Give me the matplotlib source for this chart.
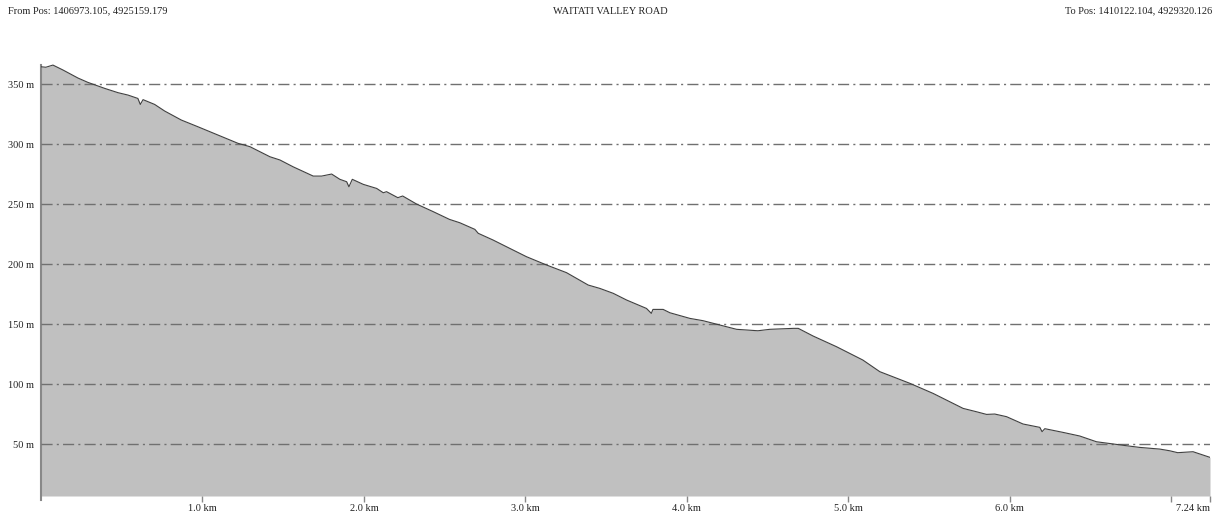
import numpy as np
import matplotlib.pyplot as plt
import matplotlib as mpl

mpl.rcParams['font.family'] = ['Liberation Serif', 'DejaVu Serif']
mpl.rcParams['font.size'] = 7.5

# elevation profile along the road: distance (km), height (m)
dist_km = [0.0, 0.03, 0.074, 0.136, 0.229, 0.29, 0.394, 0.477, 0.539, 0.60,
           0.615, 0.632, 0.704, 0.766, 0.869, 0.972, 1.096, 1.22, 1.294, 1.418,
           1.48, 1.562, 1.686, 1.738, 1.80, 1.851, 1.893, 1.907, 1.928, 1.996,
           2.079, 2.12, 2.14, 2.21, 2.24, 2.326, 2.43, 2.53, 2.594, 2.687,
           2.708, 2.80, 2.904, 3.007, 3.131, 3.255, 3.389, 3.461, 3.544, 3.627,
           3.75, 3.78, 3.79, 3.853, 3.895, 4.019, 4.10, 4.204, 4.308, 4.44,
           4.514, 4.66, 4.69, 4.782, 4.927, 5.09, 5.195, 5.381, 5.525, 5.711,
           5.794, 5.856, 5.907, 5.98, 6.082, 6.186, 6.20, 6.217, 6.33, 6.433,
           6.537, 6.722, 6.805, 6.929, 6.99, 7.04, 7.135, 7.24]
elev_m = [364.4, 364.0, 365.8, 361.7, 355.0, 351.4, 346.4, 342.8, 340.8, 338.0,
          333.0, 337.0, 333.0, 327.5, 320.0, 314.4, 307.5, 300.6, 297.8, 289.4,
          286.7, 281.0, 273.3, 273.3, 275.0, 270.6, 268.6, 264.4, 270.6, 266.4,
          263.0, 259.4, 260.3, 255.3, 256.7, 250.0, 243.6, 237.2, 234.4, 228.9,
          225.6, 220.0, 213.0, 206.1, 199.2, 192.8, 182.5, 179.7, 175.6, 170.0,
          163.0, 158.9, 162.2, 162.2, 159.4, 154.7, 152.8, 149.2, 145.6, 144.4,
          145.6, 146.4, 146.4, 140.0, 131.1, 120.0, 110.3, 100.6, 92.2, 79.7,
          76.9, 74.7, 75.0, 72.8, 66.7, 63.9, 60.3, 62.8, 59.7, 56.7,
          51.9, 48.6, 47.2, 45.8, 44.4, 42.8, 43.6, 38.9]

grid_levels = [50, 100, 150, 200, 250, 300, 350]
x_ticks = [1.0, 2.0, 3.0, 4.0, 5.0, 6.0, 7.0, 7.24]
x_tick_labels = ['1.0 km', '2.0 km', '3.0 km', '4.0 km', '5.0 km', '6.0 km', '', '7.24 km']

from_text = 'From Pos: 1406973.105, 4925159.179'
to_text = 'To Pos: 1410122.104, 4929320.126'
title_text = 'WAITATI VALLEY ROAD'

fig = plt.figure(figsize=(12.2, 5.14), dpi=100)
ax = fig.add_axes([41 / 1220, 18 / 514, 1169 / 1220, 460 / 514])

y_min = 6.7
y_max = y_min + 460 / 1.2
ax.fill_between(dist_km, elev_m, y_min, color='#c0c0c0', lw=0, zorder=1)
ax.plot(dist_km, elev_m, color='#404040', lw=0.8, zorder=4)

for lev in grid_levels:
    ax.axhline(lev, color='#707070', lw=1.0, ls=(0, (8, 3, 1.5, 3)), zorder=3)

ax.set_xlim(0, 7.24)
ax.set_ylim(y_min, y_max)

ax.set_yticks(grid_levels)
ax.set_yticklabels([f'{v} m' for v in grid_levels])
ax.set_xticks(x_ticks)
ax.set_xticklabels(x_tick_labels)
ax.get_xticklabels()[-1].set_horizontalalignment('right')
ax.tick_params(axis='y', length=0, pad=5, colors='#222222')
ax.tick_params(axis='x', length=4, width=1, color='#888888', pad=2, labelcolor='#222222')

for side in ['top', 'right', 'bottom']:
    ax.spines[side].set_visible(False)
ax.spines['left'].set_color('#888888')
ax.spines['left'].set_linewidth(1.5)
ax.spines['left'].set_bounds(y_min - 3, 366)

fig.text(8 / 1220, 1 - 11 / 514, from_text, ha='left', va='center', color='#222222')
fig.text(610 / 1220, 1 - 11 / 514, title_text, ha='center', va='center', color='#222222')
fig.text(1212 / 1220, 1 - 11 / 514, to_text, ha='right', va='center', color='#222222')

fig.savefig('out.png', dpi=100)
